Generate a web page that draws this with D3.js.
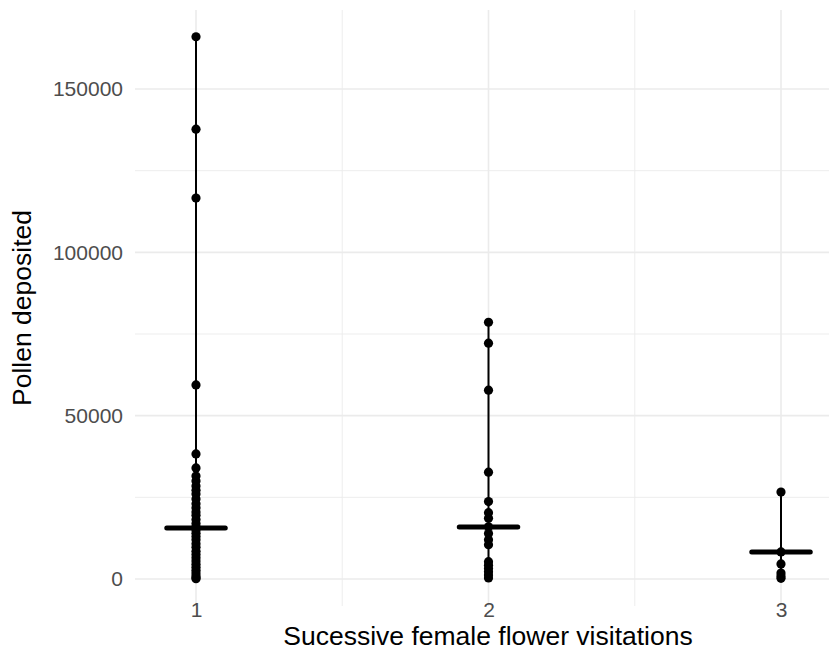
<!DOCTYPE html>
<html>
<head>
<meta charset="utf-8">
<script src="https://cdn.jsdelivr.net/npm/d3@7"></script>
<style>
  html, body { margin: 0; padding: 0; background: #ffffff; }
  svg { display: block; font-family: "Liberation Sans", Arial, sans-serif; }
</style>
</head>
<body>
<svg id="chart" width="836" height="672"></svg>
<script>
// ---- data ----
const categories = [1, 2, 3];
const group1 = [166000, 137700, 116600, 59400, 38300, 34000,
  31500, 30000, 28500, 27200, 26000, 24500, 23000, 21800, 20500, 19500,
  18200, 17000, 16000, 15000, 14000, 13000, 12000, 10800, 9700, 8500,
  7500, 6500, 5500, 4500, 3600, 2700, 1800, 1000, 400, 100];
const group2 = [78600, 72200, 57800, 32700, 23700, 20300, 18600, 16000,
  13900, 12000, 10500, 5300, 4200, 3200, 2200, 1200, 300];
const group3 = [26600, 8300, 4600, 1800, 900, 200];
const summaryValues = [15600, 15900, 8300];
const yTicks = [0, 50000, 100000, 150000];
const yMinorTicks = [25000, 75000, 125000];
const xTicks = [1, 2, 3];
const xMinorTicks = [1.5, 2.5];
const xTitle = "Sucessive female flower visitations";
const yTitle = "Pollen deposited";

// ---- layout ----
const panel = { left: 135, right: 829, top: 10, bottom: 606 };
const svg = d3.select("#chart");

const x = d3.scaleLinear().domain([1, 3]).range([196, 781]);
const y = d3.scaleLinear().domain([0, 150000]).range([579, 89]);

const groups = [group1, group2, group3];
const series = categories.map((c, i) => ({ cat: c, values: groups[i], summary: summaryValues[i] }));

// gridlines
const grid = svg.append("g");
grid.selectAll("line.ymin").data(yMinorTicks).join("line")
  .attr("x1", panel.left).attr("x2", panel.right)
  .attr("y1", d => y(d)).attr("y2", d => y(d))
  .attr("stroke", "#ebebeb").attr("stroke-width", 0.9);
grid.selectAll("line.xmin").data(xMinorTicks).join("line")
  .attr("y1", panel.top).attr("y2", panel.bottom)
  .attr("x1", d => x(d)).attr("x2", d => x(d))
  .attr("stroke", "#ebebeb").attr("stroke-width", 0.9);
grid.selectAll("line.ymaj").data(yTicks).join("line")
  .attr("x1", panel.left).attr("x2", panel.right)
  .attr("y1", d => y(d)).attr("y2", d => y(d))
  .attr("stroke", "#ebebeb").attr("stroke-width", 1.6);
grid.selectAll("line.xmaj").data(xTicks).join("line")
  .attr("y1", panel.top).attr("y2", panel.bottom)
  .attr("x1", d => x(d)).attr("x2", d => x(d))
  .attr("stroke", "#ebebeb").attr("stroke-width", 1.6);

// axes (text only, theme_minimal)
const yAxis = svg.append("g").attr("transform", `translate(${panel.left},0)`)
  .call(d3.axisLeft(y).tickValues(yTicks).tickFormat(d3.format("d")).tickSize(0).tickPadding(12));
yAxis.select(".domain").remove();
yAxis.selectAll("text").attr("fill", "#4d4d4d").style("font-size", "21px")
  .style("font-family", "'Liberation Sans', Arial, sans-serif");

const xAxis = svg.append("g").attr("transform", `translate(0,${panel.bottom - 8})`)
  .call(d3.axisBottom(x).tickValues(xTicks).tickFormat(d3.format("d")).tickSize(0).tickPadding(4));
xAxis.select(".domain").remove();
xAxis.selectAll("text").attr("fill", "#4d4d4d").style("font-size", "21px")
  .style("font-family", "'Liberation Sans', Arial, sans-serif");

// lines from min to max
const marks = svg.append("g");
marks.selectAll("line.range").data(series).join("line")
  .attr("x1", d => x(d.cat)).attr("x2", d => x(d.cat))
  .attr("y1", d => y(d3.min(d.values))).attr("y2", d => y(d3.max(d.values)))
  .attr("stroke", "#000").attr("stroke-width", 2);

// points
series.forEach(s => {
  marks.append("g").selectAll("circle").data(s.values).join("circle")
    .attr("cx", x(s.cat)).attr("cy", d => y(d)).attr("r", 4.6).attr("fill", "#000");
});

// summary bars
marks.selectAll("line.summary").data(series).join("line")
  .attr("x1", d => x(d.cat - 0.1)).attr("x2", d => x(d.cat + 0.1))
  .attr("y1", d => y(d.summary)).attr("y2", d => y(d.summary))
  .attr("stroke", "#000").attr("stroke-width", 5).attr("stroke-linecap", "round");

// titles
svg.append("text").attr("x", 488).attr("y", 645).attr("text-anchor", "middle")
  .style("font-size", "26.5px").attr("fill", "#000").text(xTitle);
svg.append("text").attr("transform", "translate(31,308) rotate(-90)").attr("text-anchor", "middle")
  .style("font-size", "26.5px").attr("fill", "#000").text(yTitle);
</script>
</body>
</html>
